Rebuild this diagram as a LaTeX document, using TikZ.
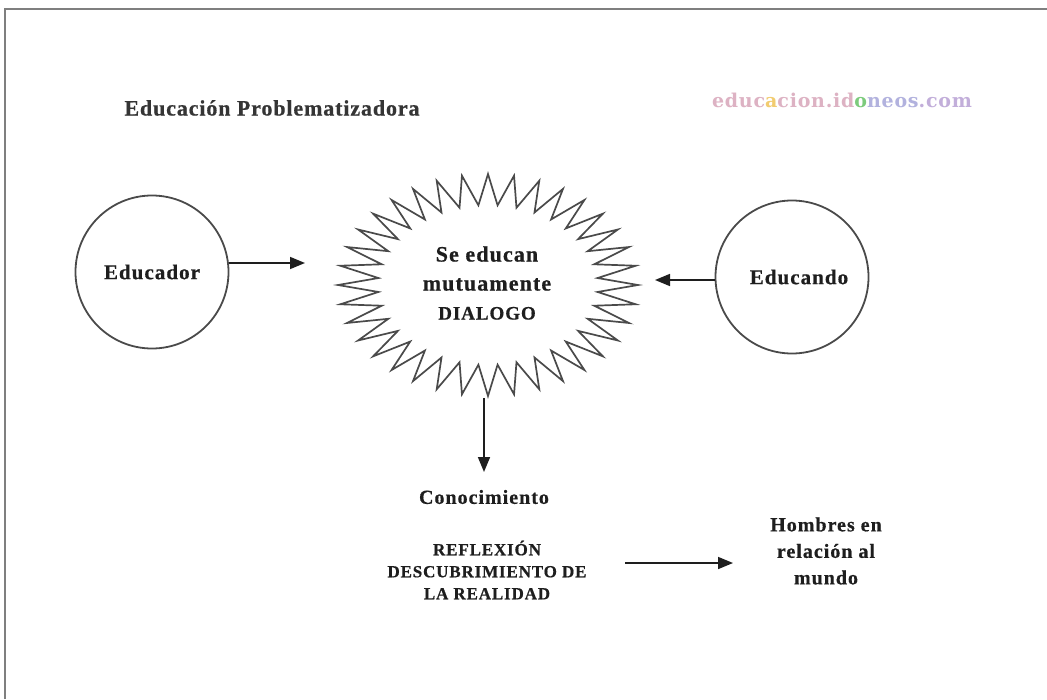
\documentclass[tikz,border=0pt]{standalone}
\usepackage{fontspec}
\setmainfont{Liberation Serif}
\newfontfamily\lsf[LetterSpace=5, BoldFeatures={FakeBold=0.6}]{Liberation Serif}
\newfontfamily\ttlf[LetterSpace=4, BoldFeatures={FakeBold=0.6}]{Liberation Serif}
\newfontfamily\wmf[LetterSpace=4]{DejaVu Serif}
\usetikzlibrary{arrows.meta}
\definecolor{txt}{HTML}{1E1E1E}
\definecolor{bord}{HTML}{7F7F7F}
\definecolor{circl}{HTML}{4A4A4A}
\definecolor{ttl}{HTML}{353535}
\definecolor{wpink}{HTML}{DDB2C3}
\definecolor{wyel}{HTML}{F2CC70}
\definecolor{wgreen}{HTML}{7CCB7C}
\definecolor{wblue}{HTML}{B2B2DE}
\definecolor{wpurp}{HTML}{C2AEDA}
\tikzset{
  circ/.style={circle, draw=circl, line width=1.8pt, minimum size=153pt, inner sep=0pt,
    text=txt, font=\lsf\bfseries\fontsize{21}{25}\selectfont},
  starl/.style={draw=circl, line width=1.7pt, line join=miter},
  lbl/.style={text=txt, align=center, inner sep=0pt},
  arr/.style={-{Triangle[length=15pt,width=12pt]}, line width=1.6pt, draw=txt},
  border/.style={draw=bord, line width=2pt}
}
\begin{document}
\begin{tikzpicture}[x=1pt,y=-1pt]
\useasboundingbox (0,0) rectangle (1047,699);
\fill[white] (0,0) rectangle (1047,699);
\draw[border] (5,699) -- (5,9) -- (1047,9);

% title and watermark
\node[lbl, text=ttl, font=\ttlf\bfseries\fontsize{22}{26}\selectfont] (title) at (272,108) {Educación Problematizadora};
\node[lbl, font=\wmf\bfseries\fontsize{19}{22}\selectfont] (wm) at (842,100)
  {\textcolor{wpink}{educ}\textcolor{wyel}{a}\textcolor{wpink}{cion.id}\textcolor{wgreen}{o}\textcolor{wblue}{neos}\textcolor{wpurp}{.com}};

% circles
\node[circ] (edu) at (152,272) {Educador};
\node[circ] (edc) at (792,277) {\hspace*{14pt}Educando};

% starburst
\draw[starl] (638,285) \foreach \i in {1,...,71} {
  -- ({488 + (mod(\i,2)==0 ? 150 : 110)*cos(\i*5)}, {285 + (mod(\i,2)==0 ? 111 : 80)*sin(\i*5)}) } -- cycle;
\node[lbl, font=\lsf\bfseries\fontsize{22}{29}\selectfont] (dlg) at (487,283)
  {Se educan\\mutuamente\\{\fontsize{19}{29}\selectfont DIALOGO}};

% lower texts
\node[lbl, font=\lsf\bfseries\fontsize{20}{24}\selectfont] (con) at (484,497) {Conocimiento};
\node[lbl, font=\lsf\bfseries\fontsize{17}{22}\selectfont] (refl) at (487,570)
  {REFLEXIÓN\\DESCUBRIMIENTO DE\\LA REALIDAD};
\node[lbl, font=\lsf\bfseries\fontsize{20}{26.5}\selectfont] (hom) at (826,551)
  {Hombres en\\relación al\\mundo};

% connectors
\coordinate (a1) at (305,263);
\draw[arr] (edu.east |- a1) -- (a1);
\coordinate (a2) at (655,280);
\draw[arr] (edc.west |- a2) -- (a2);
\coordinate (sb) at (484,398);
\coordinate (a3) at (484,472);
\draw[arr] (sb) -- (a3);
\coordinate (b1) at (625,563);
\coordinate (b2) at (733,563);
\draw[arr] (b1) -- (b2);
\end{tikzpicture}
\end{document}
